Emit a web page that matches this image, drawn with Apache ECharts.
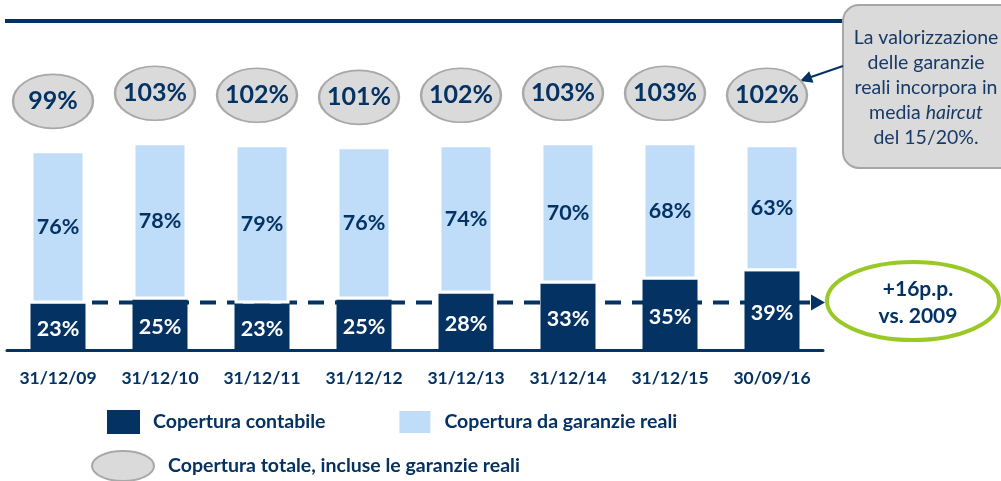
<!DOCTYPE html>
<html>
<head>
<meta charset="utf-8">
<script src="https://cdn.jsdelivr.net/npm/echarts@6/dist/echarts.min.js"></script>
<style>
  html, body { margin: 0; padding: 0; background: #ffffff; }
  #chart { width: 1001px; height: 481px; }
</style>
</head>
<body>
<div id="chart"></div>
<script>
// Dates of the reporting periods
const categories = ['31/12/09', '31/12/10', '31/12/11', '31/12/12', '31/12/13', '31/12/14', '31/12/15', '30/09/16'];
// Copertura contabile (%)
const contabile = [23, 25, 23, 25, 28, 33, 35, 39];
// Copertura da garanzie reali (%)
const garanzie = [76, 78, 79, 76, 74, 70, 68, 63];
// Copertura totale, incluse le garanzie reali (%)
const totale = [99, 103, 102, 101, 102, 103, 103, 102];

const NAVY = '#033263';
const LIGHT = '#bfdcf8';
const FONT = 'Lato';
const ELLIPSE = 'path://M0,50A50,50,0,1,1,100,50A50,50,0,1,1,0,50Z';

const chart = echarts.init(document.getElementById('chart'), null, { renderer: 'canvas' });

const legendText = { color: NAVY, fontFamily: FONT, fontWeight: 'bold', fontSize: 19.5 };

const option = {
  animation: false,
  backgroundColor: '#ffffff',
  textStyle: { fontFamily: FONT },
  grid: { left: 7, right: 178, top: 108, bottom: 131, containLabel: false },
  xAxis: {
    type: 'category',
    data: categories,
    axisLine: { lineStyle: { color: NAVY, width: 3 } },
    axisTick: { show: false },
    axisLabel: { color: NAVY, fontFamily: FONT, fontWeight: 'bold', fontSize: 17.5, margin: 19 }
  },
  yAxis: {
    type: 'value', min: 0, max: 120, show: false, splitLine: { show: false }
  },
  legend: [
    {
      data: [
        { name: 'Copertura contabile', icon: 'rect' },
        { name: 'Copertura da garanzie reali', icon: 'rect' }
      ],
      left: 107, top: 409, padding: 0, itemWidth: 33, itemHeight: 24, itemGap: 72,
      selectedMode: false,
      textStyle: Object.assign({ padding: [0, 0, 0, 8] }, legendText)
    },
    {
      data: [{ name: 'Copertura totale, incluse le garanzie reali', icon: ELLIPSE }],
      left: 91, top: 450, padding: 0, itemWidth: 62, itemHeight: 30,
      symbolKeepAspect: false,
      selectedMode: false,
      textStyle: Object.assign({ padding: [0, 0, 0, 9] }, legendText)
    }
  ],
  series: [
    {
      name: 'Copertura contabile',
      type: 'bar',
      stack: 'cov',
      barWidth: 55,
      data: contabile,
      itemStyle: { color: NAVY },
      label: {
        show: true, position: 'inside', offset: [0, 2], formatter: '{c}%',
        color: '#ffffff', fontFamily: FONT, fontWeight: 'bold', fontSize: 21.5
      }
    },
    {
      name: 'Copertura da garanzie reali',
      type: 'bar',
      stack: 'cov',
      barWidth: 55,
      data: garanzie,
      itemStyle: { color: LIGHT, borderColor: '#ffffff', borderWidth: 3 },
      label: {
        show: true, position: 'inside', formatter: '{c}%',
        color: NAVY, fontFamily: FONT, fontWeight: 'bold', fontSize: 21.5
      }
    },
    {
      name: 'Copertura totale, incluse le garanzie reali',
      type: 'scatter',
      data: totale,
      clip: false,
      z: 5,
      symbol: ELLIPSE,
      symbolSize: [80, 54],
      symbolKeepAspect: false,
      symbolOffset: [-5, -49],
      itemStyle: { color: '#dadada', borderColor: '#a8a8a8', borderWidth: 2, opacity: 1 },
      label: {
        show: true, position: 'inside', formatter: '{c}%',
        color: NAVY, fontFamily: FONT, fontWeight: 'bold', fontSize: 25
      }
    }
  ]
};

chart.setOption(option);

// Reference level of 2009 coverage, drawn as a dashed arrow across the bars
const first = chart.convertToPixel({ gridIndex: 0 }, [0, contabile[0]]);
const yRef = first[1] - 1;
const xStart = first[0] + 34;
const xTip = 825;
const delta = contabile[contabile.length - 1] - contabile[0];

chart.setOption({
  graphic: [
    { type: 'line', z: 1, shape: { x1: 5, y1: 21, x2: 846, y2: 21 }, style: { stroke: NAVY, lineWidth: 4 } },
    { type: 'rect', z: 2, shape: { x: 843, y: 5, width: 172, height: 163, r: 16 },
      style: { fill: '#dadada', stroke: '#a6a6a6', lineWidth: 2 } },
    { type: 'text', z: 3, x: 926, y: 25,
      style: {
        text: 'La valorizzazione\ndelle garanzie\nreali incorpora in\nmedia {i|haircut}\ndel 15/20%.',
        align: 'center', verticalAlign: 'top',
        fill: '#173a68', font: '19.5px ' + FONT, lineHeight: 25,
        rich: { i: { fontStyle: 'italic', fontSize: 19.5, fontFamily: FONT, fill: '#173a68', lineHeight: 25 } }
      } },
    { type: 'line', z: 3, shape: { x1: 843, y1: 66, x2: 811, y2: 77 }, style: { stroke: NAVY, lineWidth: 2 } },
    { type: 'polygon', z: 3, shape: { points: [[800, 81], [813.5, 82.8], [809.3, 71.2]] }, style: { fill: NAVY } },
    { type: 'line', z: 0, shape: { x1: xStart, y1: yRef, x2: xTip - 13, y2: yRef },
      style: { stroke: NAVY, lineWidth: 4, lineDash: [16, 11] } },
    { type: 'polygon', z: 0, shape: { points: [[xTip - 14, yRef - 8], [xTip, yRef], [xTip - 14, yRef + 8]] },
      style: { fill: NAVY } },
    { type: 'ellipse', z: 10, shape: { cx: 913, cy: 301, rx: 86, ry: 39 },
      style: { fill: '#ffffff', stroke: '#99c926', lineWidth: 4 } },
    { type: 'text', z: 11, x: 918, y: 303,
      style: {
        text: '+' + delta + 'p.p.\nvs. 2009', align: 'center', verticalAlign: 'middle',
        fill: NAVY, font: 'bold 21px ' + FONT, lineHeight: 27
      } }
  ]
});
</script>
</body>
</html>
